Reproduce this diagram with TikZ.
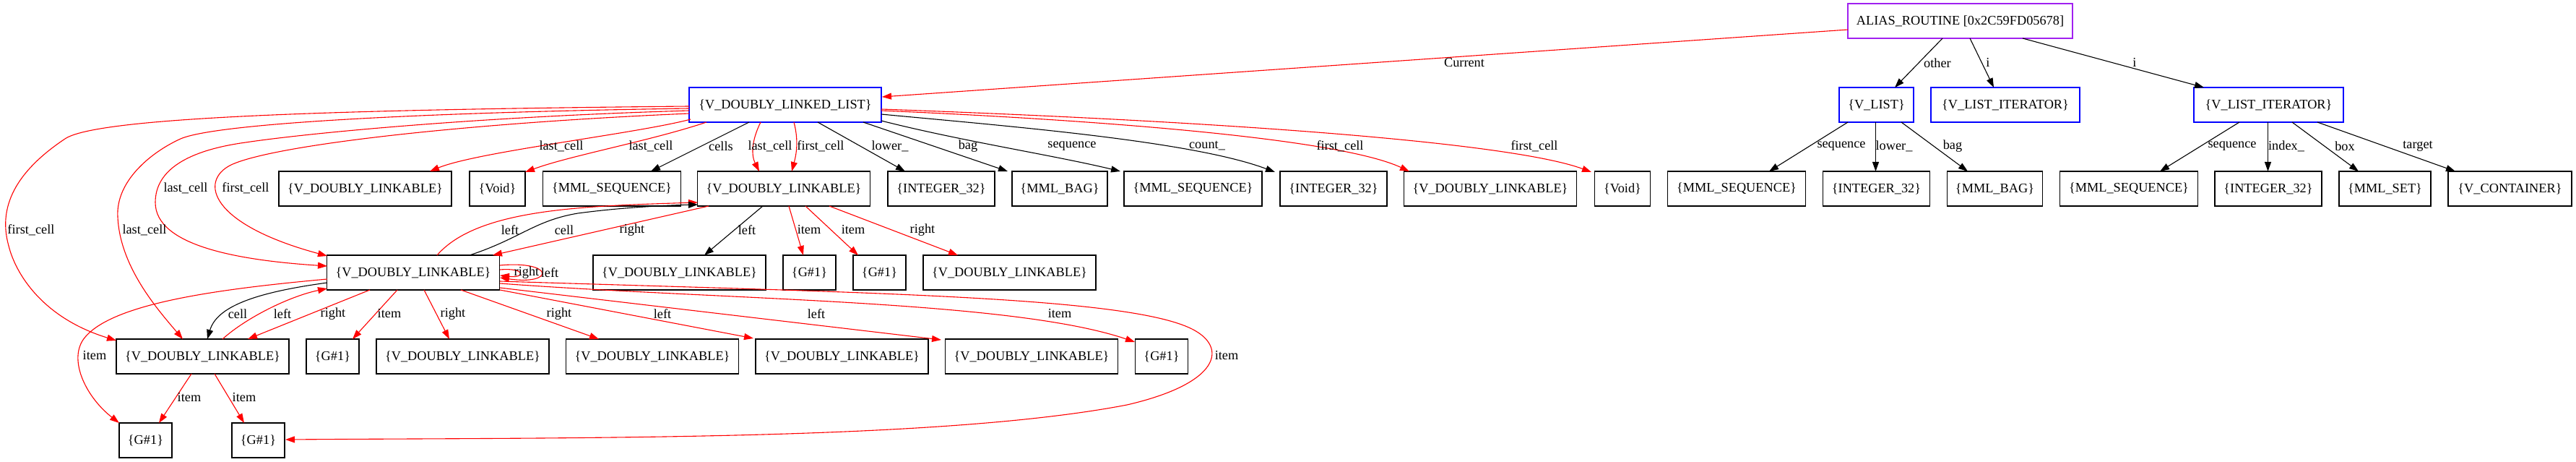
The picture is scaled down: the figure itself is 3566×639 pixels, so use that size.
\documentclass[tikz,border=0pt]{standalone}
\usepackage{fontspec}
\setmainfont{Liberation Serif}
\usetikzlibrary{arrows.meta}
\definecolor{gvpurple}{RGB}{160,32,240}
\newcommand\figfont{\fontsize{18.3}{20}\selectfont}
\newcommand\VDL{\{V\_DOUBLY\_LINKABLE\}}
\newcommand\GG{\{G\#1\}}
\newcommand\MSQ{\{MML\_SEQUENCE\}}
\newcommand\INT{\{INTEGER\_32\}}
\begin{document}
\begin{tikzpicture}[x=1pt,y=-1pt,
 bx/.style={draw, rectangle, minimum height=48pt, inner sep=0pt, line width=1.1pt, font=\figfont},
 lbl/.style={font=\figfont, inner sep=0pt},
 edgeline/.style={line width=1.1pt, -{Triangle[length=13pt,width=9pt]}},
 redE/.style={edgeline, draw=red},
 blkE/.style={edgeline, draw=black},
]
\useasboundingbox[fill=white] (0,0) rectangle (3566,639);
% row 0
\node[bx, minimum width=311pt, draw=gvpurple] (alias) at (2713.5,29) {ALIAS\_ROUTINE [0x2C59FD05678]};
% row 1
\node[bx, minimum width=266pt, draw=blue] (vdll) at (1087,145) {\{V\_DOUBLY\_LINKED\_LIST\}};
\node[bx, minimum width=103pt, draw=blue] (vlist) at (2597.5,145) {\{V\_LIST\}};
\node[bx, minimum width=206pt, draw=blue] (vli1) at (2776,145) {\{V\_LIST\_ITERATOR\}};
\node[bx, minimum width=207pt, draw=blue] (vli2) at (3140.5,145) {\{V\_LIST\_ITERATOR\}};
% row 2
\node[bx, minimum width=239pt] (r2a) at (505.5,261) {\VDL};
\node[bx, minimum width=77pt] (r2b) at (688.5,261) {\{Void\}};
\node[bx, minimum width=191pt] (r2c) at (847,261) {\MSQ};
\node[bx, minimum width=239pt] (B) at (1085,261) {\VDL};
\node[bx, minimum width=148pt] (r2e) at (1303,261) {\INT};
\node[bx, minimum width=132pt] (r2f) at (1467,261) {\{MML\_BAG\}};
\node[bx, minimum width=191pt] (r2g) at (1651.5,261) {\MSQ};
\node[bx, minimum width=148pt] (r2h) at (1846,261) {\INT};
\node[bx, minimum width=239pt] (r2i) at (2063,261) {\VDL};
\node[bx, minimum width=77pt] (r2j) at (2246,261) {\{Void\}};
\node[bx, minimum width=191pt] (r2k) at (2404,261) {\MSQ};
\node[bx, minimum width=148pt] (r2l) at (2597.5,261) {\INT};
\node[bx, minimum width=132pt] (r2m) at (2761.5,261) {\{MML\_BAG\}};
\node[bx, minimum width=191pt] (r2n) at (2947,261) {\MSQ};
\node[bx, minimum width=148pt] (r2o) at (3140,261) {\INT};
\node[bx, minimum width=127pt] (r2p) at (3301.5,261) {\{MML\_SET\}};
\node[bx, minimum width=171pt] (r2q) at (3474.5,261) {\{V\_CONTAINER\}};
% row 3
\node[bx, minimum width=239pt] (C) at (572,377) {\VDL};
\node[bx, minimum width=239pt] (r3b) at (940.5,377) {\VDL};
\node[bx, minimum width=73pt] (r3c) at (1120.5,377) {\GG};
\node[bx, minimum width=73pt] (r3d) at (1217.5,377) {\GG};
\node[bx, minimum width=239pt] (r3e) at (1397.5,377) {\VDL};
% row 4
\node[bx, minimum width=239pt] (D) at (280.5,493) {\VDL};
\node[bx, minimum width=73pt] (r4b) at (460.5,493) {\GG};
\node[bx, minimum width=239pt] (r4c) at (640.5,493) {\VDL};
\node[bx, minimum width=239pt] (r4d) at (903,493) {\VDL};
\node[bx, minimum width=239pt] (r4e) at (1165.5,493) {\VDL};
\node[bx, minimum width=239pt] (r4f) at (1428,493) {\VDL};
\node[bx, minimum width=73pt] (r4g) at (1608,493) {\GG};
% row 5
\node[bx, minimum width=73pt] (r5a) at (201.5,609) {\GG};
\node[bx, minimum width=73pt] (r5b) at (357.5,609) {\GG};

% ---- edges from ALIAS_ROUTINE
\draw[redE] ([shift={(-155.5,12)}]alias.center) -- ([shift={(134,-11)}]vdll.center);
\draw[blkE] ([shift={(-24.5,24)}]alias.center) -- ([shift={(25.5,-24)}]vlist.center);
\draw[blkE] ([shift={(13.5,24)}]alias.center) -- ([shift={(-16,-24)}]vli1.center);
\draw[blkE] ([shift={(86.5,24)}]alias.center) -- ([shift={(-89.5,-24)}]vli2.center);
\node[lbl] (l01) at (2027,87) {Current};
\node[lbl] (l02) at (2682,87) {other};
\node[lbl] (l03) at (2752,86) {i};
\node[lbl] (l04) at (2955,86) {i};
% ---- V_LIST
\draw[blkE] ([shift={(-39.5,24)}]vlist.center) -- ([shift={(45,-24)}]r2k.center);
\draw[blkE] ([shift={(-1,24)}]vlist.center) -- ([shift={(-1,-24)}]r2l.center);
\draw[blkE] ([shift={(34.5,24)}]vlist.center) -- ([shift={(-37.5,-24)}]r2m.center);
\node[lbl] (l05) at (2549,202) {sequence};
\node[lbl] (l06) at (2622,202) {lower\_};
\node[lbl] (l07) at (2703,202) {bag};
% ---- V_LIST_ITERATOR
\draw[blkE] ([shift={(-40.5,24)}]vli2.center) -- ([shift={(43,-24)}]r2n.center);
\draw[blkE] ([shift={(-1,24)}]vli2.center) -- ([shift={(-0.5,-24)}]r2o.center);
\draw[blkE] ([shift={(32.5,24)}]vli2.center) -- ([shift={(-36.5,-24)}]r2p.center);
\draw[blkE] ([shift={(67.5,24)}]vli2.center) -- ([shift={(-75.5,-24)}]r2q.center);
\node[lbl] (l08) at (3090,202) {sequence};
\node[lbl] (l09) at (3165,202) {index\_};
\node[lbl] (l10) at (3246,202) {box};
\node[lbl] (l11) at (3347,202) {target};

% ---- V_DOUBLY_LINKED_LIST to row 2
\draw[redE] ([shift={(-131,20)}]vdll.center) .. controls (880,185) and (660,210) .. ([shift={(89.5,-24)}]r2a.center);
\draw[redE] ([shift={(-109,24)}]vdll.center) .. controls (900,195) and (790,215) .. ([shift={(38.5,-23)}]r2b.center);
\draw[blkE] ([shift={(-50,24)}]vdll.center) -- ([shift={(54,-24)}]r2c.center);
\draw[redE] ([shift={(-34,24)}]vdll.center) .. controls (1040,195) and (1040,215) .. ([shift={(-34,-24)}]B.center);
\draw[redE] ([shift={(12,24)}]vdll.center) .. controls (1106,195) and (1102,215) .. ([shift={(11,-24)}]B.center);
\draw[blkE] ([shift={(45,24)}]vdll.center) -- ([shift={(-50,-24)}]r2e.center);
\draw[blkE] ([shift={(108,24)}]vdll.center) -- ([shift={(-72,-24)}]r2f.center);
\draw[blkE] ([shift={(133,22)}]vdll.center) .. controls (1330,195) and (1460,215) .. ([shift={(-100.5,-24)}]r2g.center);
\draw[blkE] ([shift={(133,13)}]vdll.center) .. controls (1400,175) and (1650,195) .. ([shift={(-81,-23)}]r2h.center);
\draw[redE] ([shift={(133,8)}]vdll.center) .. controls (1500,165) and (1850,190) .. ([shift={(-112,-24)}]r2i.center);
\draw[redE] ([shift={(133,6)}]vdll.center) .. controls (1750,170) and (2100,200) .. ([shift={(-43,-23)}]r2j.center);
\node[lbl] (l12) at (777,202) {last\_cell};
\node[lbl] (l13) at (901,202) {last\_cell};
\node[lbl] (l14) at (998,202) {cells};
\node[lbl] (l15) at (1066,202) {last\_cell};
\node[lbl] (l16) at (1136,202) {first\_cell};
\node[lbl] (l17) at (1232,202) {lower\_};
\node[lbl] (l18) at (1340,202) {bag};
\node[lbl] (l19) at (1484,202) {sequence};
\node[lbl] (l20) at (1671,202) {count\_};
\node[lbl] (l21) at (1855,202) {first\_cell};
\node[lbl] (l22) at (2124,202) {first\_cell};

% ---- long curves from V_DOUBLY_LINKED_LIST to C and D
\draw[redE] ([shift={(-133,2)}]vdll.center) .. controls (400,152) and (130,165) .. (90,192)
  .. controls (30,232) and (-5,280) .. (12,340)
  .. controls (22,380) and (60,440) .. ([shift={(-119.5,-22)}]D.center);
\draw[redE] ([shift={(-133,5)}]vdll.center) .. controls (600,155) and (300,170) .. (250,192)
  .. controls (210,210) and (160,250) .. (163,300)
  .. controls (166,370) and (220,430) .. ([shift={(-27.5,-24)}]D.center);
\draw[redE] ([shift={(-133,8)}]vdll.center) .. controls (650,162) and (420,185) .. (340,197)
  .. controls (260,208) and (215,235) .. (215,280)
  .. controls (215,340) and (330,360) .. ([shift={(-119,-9)}]C.center);
\draw[redE] ([shift={(-133,12)}]vdll.center) .. controls (650,170) and (380,200) .. (320,228)
  .. controls (275,250) and (290,310) .. ([shift={(-119,-23)}]C.center);
\node[lbl] (l23) at (43,318) {first\_cell};
\node[lbl] (l24) at (200,318) {last\_cell};
\node[lbl] (l25) at (257,260) {last\_cell};
\node[lbl] (l26) at (340,260) {first\_cell};

% ---- B and C
\draw[redE] ([shift={(-104,24)}]B.center) -- ([shift={(110,-24)}]C.center);
\draw[redE] ([shift={(33,-24)}]C.center) .. controls (660,290) and (800,285) .. ([shift={(-119,19)}]B.center);
\draw[blkE] ([shift={(78,-24)}]C.center) .. controls (720,330) and (740,305) .. (800,295)
  .. controls (860,287) and (920,284) .. ([shift={(-119,22)}]B.center);
\node[lbl] (l27) at (706,318) {left};
\node[lbl] (l28) at (781,318) {cell};
\node[lbl] (l29) at (875,318) {right};
% ---- B to row 3
\draw[blkE] ([shift={(-29,24)}]B.center) -- ([shift={(34.5,-24)}]r3b.center);
\draw[redE] ([shift={(7,24)}]B.center) -- ([shift={(-8.5,-24)}]r3c.center);
\draw[redE] ([shift={(30,24)}]B.center) -- ([shift={(-29.5,-24)}]r3d.center);
\draw[redE] ([shift={(63,24)}]B.center) -- ([shift={(-71.5,-24)}]r3e.center);
\node[lbl] (l30) at (1034,318) {left};
\node[lbl] (l31) at (1120,318) {item};
\node[lbl] (l32) at (1181,318) {item};
\node[lbl] (l33) at (1277,318) {right};

% ---- C self loops
\draw[redE] ([shift={(120,-4)}]C.center) .. controls (728,370) and (728,385) .. ([shift={(120,4)}]C.center);
\draw[redE] ([shift={(120,-10)}]C.center) .. controls (768,360) and (768,395) .. ([shift={(120,7)}]C.center);
\node[lbl] (l34) at (729,377) {right};
\node[lbl] (l35) at (761,377) {left};

% ---- C and D, row 4
\draw[blkE] ([shift={(-119,14)}]C.center) .. controls (350,405) and (300,425) .. ([shift={(6.5,-24)}]D.center);
\draw[redE] ([shift={(27.5,-24)}]D.center) .. controls (340,440) and (400,410) .. ([shift={(-119,22)}]C.center);
\draw[redE] ([shift={(-60,24)}]C.center) -- ([shift={(62.5,-24)}]D.center);
\draw[redE] ([shift={(-22,24)}]C.center) -- ([shift={(27.5,-24)}]r4b.center);
\draw[redE] ([shift={(15,24)}]C.center) -- ([shift={(-18.5,-24)}]r4c.center);
\draw[redE] ([shift={(66,24)}]C.center) -- ([shift={(-74,-24)}]r4d.center);
\draw[redE] ([shift={(120,24)}]C.center) -- ([shift={(-122.5,-25)}]r4e.center);
\draw[redE] ([shift={(120,21)}]C.center) -- ([shift={(-125,-23)}]r4f.center);
\draw[redE] ([shift={(120,15)}]C.center) .. controls (1000,415) and (1400,415) .. ([shift={(-37,-20)}]r4g.center);
\node[lbl] (l36) at (329,434) {cell};
\node[lbl] (l37) at (391,434) {left};
\node[lbl] (l38) at (461,434) {right};
\node[lbl] (l39) at (539,434) {item};
\node[lbl] (l40) at (627,434) {right};
\node[lbl] (l41) at (774,434) {right};
\node[lbl] (l42) at (917,434) {left};
\node[lbl] (l43) at (1130,434) {left};
\node[lbl] (l44) at (1467,434) {item};

% ---- C to row 5
\draw[redE] ([shift={(120,12)}]C.center) .. controls (1200,405) and (1560,410) .. (1650,455)
  .. controls (1700,480) and (1690,530) .. (1560,560)
  .. controls (1300,610) and (800,605) .. ([shift={(37.5,-1)}]r5b.center);
\draw[redE] ([shift={(-119,9)}]C.center) .. controls (300,400) and (150,420) .. (115,470)
  .. controls (95,500) and (120,550) .. ([shift={(-36.5,-24)}]r5a.center);
\node[lbl] (l45) at (1698,492) {item};
\node[lbl] (l46) at (131,492) {item};

% ---- D to row 5
\draw[redE] ([shift={(-15.5,24)}]D.center) -- ([shift={(18.5,-24)}]r5a.center);
\draw[redE] ([shift={(16.5,24)}]D.center) -- ([shift={(-19.5,-24)}]r5b.center);
\node[lbl] (l47) at (262,550) {item};
\node[lbl] (l48) at (338,550) {item};
\end{tikzpicture}
\end{document}
